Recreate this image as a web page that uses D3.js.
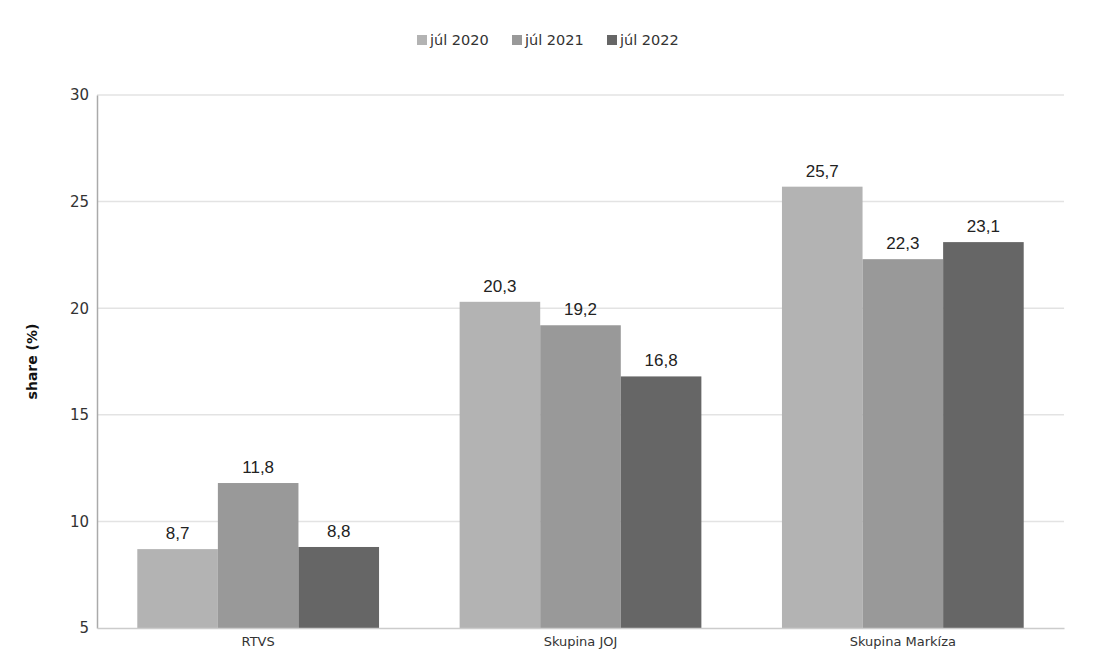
<!DOCTYPE html>
<html>
<head>
<meta charset="utf-8">
<script src="https://cdn.jsdelivr.net/npm/d3@7"></script>
<style>
  body { margin: 0; background: #fff; }
</style>
</head>
<body>
<script>
// chart data
var categories = ["RTVS", "Skupina JOJ", "Skupina Markíza"];
var seriesNames = ["júl 2020", "júl 2021", "júl 2022"];
var jul2020 = [8.7, 20.3, 25.7];
var jul2021 = [11.8, 19.2, 22.3];
var jul2022 = [8.8, 16.8, 23.1];
var yTicks = [5, 10, 15, 20, 25, 30];
var colors = ["#b3b3b3", "#999999", "#666666"];

var series = [jul2020, jul2021, jul2022];

var width = 1105, height = 670;
var margin = {top: 95, right: 41, bottom: 42, left: 97};

var svg = d3.select("body").append("svg")
  .attr("width", width)
  .attr("height", height);

var x0 = d3.scaleBand()
  .domain(categories)
  .range([margin.left, width - margin.right])
  .paddingInner(0.25)
  .paddingOuter(0.125);

var x1 = d3.scaleBand()
  .domain(seriesNames)
  .range([0, x0.bandwidth()]);

var y = d3.scaleLinear()
  .domain([5, 30])
  .range([height - margin.bottom, margin.top]);

// gridlines
svg.append("g")
  .selectAll("line")
  .data(yTicks.slice(1))
  .enter().append("line")
  .attr("x1", margin.left)
  .attr("x2", width - margin.right)
  .attr("y1", function(d) { return y(d); })
  .attr("y2", function(d) { return y(d); })
  .attr("stroke", "#e3e3e3")
  .attr("stroke-width", 1.5);

// bars
var groups = svg.append("g")
  .selectAll("g")
  .data(categories)
  .enter().append("g")
  .attr("transform", function(d) { return "translate(" + x0(d) + ",0)"; });

groups.selectAll("rect")
  .data(function(d, i) {
    return seriesNames.map(function(s, j) { return {s: s, j: j, v: series[j][i]}; });
  })
  .enter().append("rect")
  .attr("x", function(d) { return x1(d.s); })
  .attr("width", x1.bandwidth())
  .attr("y", function(d) { return y(d.v); })
  .attr("height", function(d) { return y(5) - y(d.v); })
  .attr("fill", function(d) { return colors[d.j]; });

// value labels
groups.selectAll("text")
  .data(function(d, i) {
    return seriesNames.map(function(s, j) { return {s: s, j: j, v: series[j][i]}; });
  })
  .enter().append("text")
  .attr("x", function(d) { return x1(d.s) + x1.bandwidth() / 2; })
  .attr("y", function(d) { return y(d.v) - 10; })
  .attr("text-anchor", "middle")
  .style("font-family", "Liberation Sans, Arial, sans-serif")
  .style("font-size", "17px")
  .attr("fill", "#222")
  .text(function(d) { return String(d.v).replace(".", ","); });

// y axis
var yAxis = svg.append("g")
  .attr("transform", "translate(" + margin.left + ",0)")
  .call(d3.axisLeft(y).tickValues(yTicks).tickSize(0).tickPadding(8));
yAxis.select(".domain").attr("stroke", "#aaa").attr("stroke-width", 1.5);
yAxis.selectAll("text")
  .style("font-family", "DejaVu Sans, Verdana, sans-serif")
  .style("font-size", "15px")
  .attr("fill", "#333");

// x axis
var xAxis = svg.append("g")
  .attr("transform", "translate(0," + (height - margin.bottom) + ")")
  .call(d3.axisBottom(x0).tickSize(0).tickPadding(9));
xAxis.select(".domain").attr("stroke", "#ccc").attr("stroke-width", 1.5);
xAxis.selectAll("text")
  .style("font-family", "DejaVu Sans, Tahoma, sans-serif")
  .style("font-size", "13px")
  .attr("fill", "#333");

// y axis title
svg.append("text")
  .attr("transform", "translate(37," + ((margin.top + height - margin.bottom) / 2) + ") rotate(-90)")
  .attr("text-anchor", "middle")
  .style("font-family", "DejaVu Sans, Tahoma, sans-serif")
  .style("font-size", "14px")
  .style("font-weight", "bold")
  .attr("fill", "#111")
  .text("share (%)");

// legend
var legendX = [417, 512, 607];
var legend = svg.append("g")
  .selectAll("g")
  .data(seriesNames)
  .enter().append("g")
  .attr("transform", function(d, i) { return "translate(" + legendX[i] + ",40)"; });

legend.append("rect")
  .attr("x", 0)
  .attr("y", -5)
  .attr("width", 10)
  .attr("height", 10)
  .attr("fill", function(d, i) { return colors[i]; });

legend.append("text")
  .attr("x", 13)
  .attr("y", 0)
  .attr("dy", "0.35em")
  .style("font-family", "DejaVu Sans, Tahoma, sans-serif")
  .style("font-size", "14.5px")
  .attr("fill", "#333")
  .text(function(d) { return d; });
</script>
</body>
</html>
